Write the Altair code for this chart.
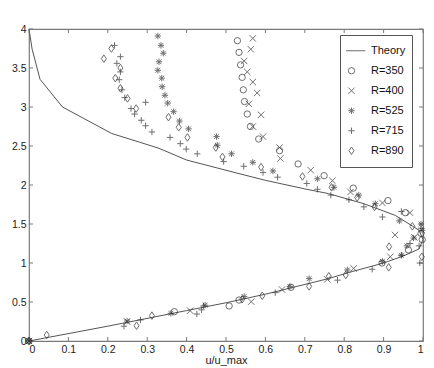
import altair as alt
import pandas as pd

# ---- data ----
theory_x = [0.0, 0.2, 0.4, 0.5, 0.6, 0.68, 0.76, 0.82, 0.9, 0.95, 0.99, 1.0, 0.99, 0.93, 0.85, 0.76, 0.70, 0.6, 0.53, 0.4, 0.33, 0.28, 0.21, 0.085, 0.028, 0.008, 0.0]
theory_y = [0.0, 0.19, 0.39, 0.49, 0.6, 0.70, 0.80, 0.89, 1.0, 1.09, 1.18, 1.3, 1.42, 1.61, 1.76, 1.89, 1.95, 2.06, 2.15, 2.32, 2.47, 2.55, 2.66, 3.0, 3.355, 3.74, 4.0]

r350_x = [0.529, 0.533, 0.537, 0.541, 0.544, 0.547, 0.554, 0.562, 0.583, 0.636, 0.683, 0.749, 0.823, 0.911, 0.955, 0.995, 0.998, 0.963, 0.896, 0.665, 0.533, 0.508, 0.369, 0.0]
r350_y = [3.85, 3.70, 3.54, 3.38, 3.22, 3.07, 2.91, 2.75, 2.59, 2.44, 2.27, 2.12, 1.96, 1.80, 1.645, 1.38, 1.30, 1.167, 1.00, 0.688, 0.525, 0.449, 0.376, 0.0]

r400_x = [0.568, 0.563, 0.546, 0.554, 0.568, 0.579, 0.558, 0.589, 0.568, 0.594, 0.636, 0.638, 0.715, 0.77, 0.816, 0.897, 0.967, 0.978, 0.929, 0.917, 0.824, 0.757, 0.642, 0.564, 0.409, 0.249, 0.0]
r400_y = [3.88, 3.74, 3.59, 3.45, 3.32, 3.18, 3.04, 2.90, 2.75, 2.62, 2.48, 2.34, 2.19, 2.055, 1.91, 1.77, 1.645, 1.33, 1.36, 1.08, 0.93, 0.79, 0.66, 0.504, 0.389, 0.248, 0.0]

r525_x = [0.327, 0.335, 0.341, 0.330, 0.327, 0.337, 0.338, 0.345, 0.352, 0.367, 0.382, 0.405, 0.476, 0.478, 0.514, 0.568, 0.619, 0.732, 0.774, 0.837, 0.879, 0.940, 0.995, 0.998, 0.976, 0.959, 0.945, 0.897, 0.808, 0.711, 0.662, 0.546, 0.447, 0.36, 0.249, 0.0]
r525_y = [3.91, 3.79, 3.69, 3.58, 3.47, 3.37, 3.26, 3.15, 3.05, 2.94, 2.82, 2.72, 2.62, 2.51, 2.40, 2.29, 2.18, 2.08, 1.97, 1.87, 1.76, 1.54, 1.50, 1.42, 1.32, 1.22, 1.10, 1.02, 0.91, 0.80, 0.70, 0.57, 0.46, 0.355, 0.256, 0.0]

r715_x = [0.217, 0.232, 0.223, 0.232, 0.229, 0.236, 0.243, 0.296, 0.259, 0.268, 0.285, 0.296, 0.312, 0.358, 0.384, 0.399, 0.427, 0.494, 0.545, 0.594, 0.631, 0.705, 0.732, 0.766, 0.812, 0.85, 0.945, 0.897, 0.995, 0.99, 0.967, 0.946, 0.992, 0.871, 0.783, 0.625, 0.443, 0.438, 0.426, 0.283, 0.241, 0.0]
r715_y = [3.79, 3.645, 3.56, 3.45, 3.35, 3.22, 3.12, 3.06, 2.98, 2.91, 2.83, 2.76, 2.68, 2.61, 2.53, 2.46, 2.40, 2.30, 2.24, 2.16, 2.10, 2.02, 1.945, 1.87, 1.81, 1.72, 1.66, 1.59, 1.445, 1.22, 1.25, 1.10, 1.0, 0.92, 0.78, 0.62, 0.45, 0.40, 0.346, 0.27, 0.19, 0.0]

r890_x = [0.209, 0.190, 0.232, 0.219, 0.232, 0.25, 0.272, 0.354, 0.38, 0.402, 0.474, 0.491, 0.589, 0.694, 0.768, 0.833, 0.877, 0.973, 0.914, 0.997, 0.913, 0.804, 0.761, 0.711, 0.592, 0.541, 0.312, 0.273, 0.045, 0.0]
r890_y = [3.75, 3.62, 3.50, 3.37, 3.24, 3.11, 2.98, 2.87, 2.74, 2.61, 2.48, 2.36, 2.23, 2.11, 1.97, 1.84, 1.72, 1.47, 1.21, 1.08, 0.945, 0.846, 0.83, 0.70, 0.58, 0.535, 0.325, 0.196, 0.077, 0.0]

series_names = ["Theory", "R=350", "R=400", "R=525", "R=715", "R=890"]
x_ticks = [0, 0.1, 0.2, 0.3, 0.4, 0.5, 0.6, 0.7, 0.8, 0.9, 1.0]
y_ticks = [0, 0.5, 1, 1.5, 2, 2.5, 3, 3.5, 4]

# ---- tables ----
theory_df = pd.DataFrame({"x": theory_x, "y": theory_y, "i": range(len(theory_x))})
frames = []
for name, xs_, ys_ in [("R=350", r350_x, r350_y), ("R=400", r400_x, r400_y),
                       ("R=525", r525_x, r525_y), ("R=715", r715_x, r715_y),
                       ("R=890", r890_x, r890_y)]:
    frames.append(pd.DataFrame({"x": xs_, "y": ys_, "series": name}))
pts_df = pd.concat(frames, ignore_index=True)
xt_df = pd.DataFrame({"v": x_ticks})
yt_df = pd.DataFrame({"v": y_ticks})

W, H = 394, 312
FONT = "Liberation Sans"
GREY = "#7a7a7a"
INK = "#333333"

xs = alt.Scale(domain=[0, 1], nice=False, zero=False)
ys = alt.Scale(domain=[0, 4], nice=False, zero=False)

axis_common = dict(domain=False, ticks=False, tickSize=0, grid=False, labelOverlap=False,
                   labelFont=FONT, labelFontSize=10.5, labelColor="#222222", labelPadding=3,
                   titleFont=FONT, titleFontSize=11, titleFontWeight="normal",
                   titleColor="#222222", format="~g")
x_axis = alt.Axis(values=x_ticks, titlePadding=0, **axis_common)
y_axis = alt.Axis(values=y_ticks, **axis_common)


def X(field):
    return alt.X(field, scale=xs, axis=x_axis, title="u/u_max")


def Y(field):
    return alt.Y(field, scale=ys, axis=y_axis, title=None)


shape_paths = [
    "M-1.9,0L4.4,0",                                   # Theory (line)
    "circle",                                          # R=350
    "M-1,-1L1,1M-1,1L1,-1",                            # R=400 (x)
    "M-1,0L1,0M0,-1L0,1M-0.75,-0.75L0.75,0.75M-0.75,0.75L0.75,-0.75",  # R=525 (*)
    "M-1,0L1,0M0,-1L0,1",                              # R=715 (+)
    "M0,-1.2L0.8,0L0,1.2L-0.8,0Z",                     # R=890 (diamond)
]

theory = alt.Chart(theory_df).mark_line(color="#555555", strokeWidth=1).encode(
    x=X("x:Q"), y=Y("y:Q"), order=alt.Order("i:Q"),
)

points = alt.Chart(pts_df).mark_point(filled=False, size=40, strokeWidth=1, color=INK).encode(
    x=X("x:Q"),
    y=Y("y:Q"),
    shape=alt.Shape(
        "series:N",
        scale=alt.Scale(domain=series_names, range=shape_paths),
        legend=alt.Legend(
            title=None, orient="none", legendX=W - 83, legendY=6,
            strokeColor="#555555", fillColor="white", padding=6,
            symbolSize=40, symbolStrokeColor=INK, symbolStrokeWidth=1,
            symbolFillColor="transparent",
            labelFont=FONT, labelFontSize=11, labelColor="#111111",
            labelOffset=14, clipHeight=19.5, rowPadding=0,
            labelExpr="datum.label + '\u00a0\u00a0\u00a0\u00a0'",
        ),
    ),
)

tick_bottom = alt.Chart(xt_df).mark_rule(color=GREY, strokeWidth=1).encode(
    x=X("v:Q"), y=alt.value(H), y2=alt.value(H - 4))
tick_top = alt.Chart(xt_df).mark_rule(color=GREY, strokeWidth=1).encode(
    x=X("v:Q"), y=alt.value(0), y2=alt.value(4))
tick_left = alt.Chart(yt_df).mark_rule(color=GREY, strokeWidth=1).encode(
    y=Y("v:Q"), x=alt.value(0), x2=alt.value(4))
tick_right = alt.Chart(yt_df).mark_rule(color=GREY, strokeWidth=1).encode(
    y=Y("v:Q"), x=alt.value(W), x2=alt.value(W - 4))

chart = alt.layer(theory, tick_bottom, tick_top, tick_left, tick_right, points).properties(
    width=W, height=H,
    autosize=alt.AutoSizeParams(type="none"),
    padding={"left": 21, "top": 21, "right": 3, "bottom": 27},
    background="white",
).configure_view(
    stroke=GREY, strokeWidth=1.2
)

chart.save("out.html", embed_options={"renderer": "svg", "actions": False})
